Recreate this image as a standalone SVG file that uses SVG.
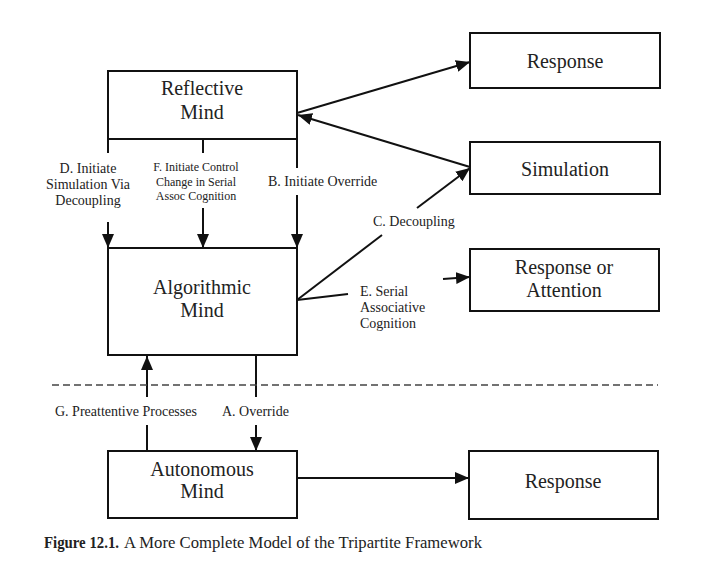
<svg xmlns="http://www.w3.org/2000/svg" width="704" height="580" viewBox="0 0 704 580">
<style>
.box{fill:#fff;stroke:#111;stroke-width:2}
.big{font-family:"Liberation Serif","Times New Roman",serif;font-size:20px;fill:#222;text-anchor:middle}
.lbl{font-family:"Liberation Serif","Times New Roman",serif;font-size:14px;fill:#222}
.sm{font-family:"Liberation Serif","Times New Roman",serif;font-size:12px;fill:#222}
.ln{fill:none;stroke:#111;stroke-width:2}
.dash{fill:none;stroke:#444;stroke-width:1.5;stroke-dasharray:7 4}
.cap{font-family:"Liberation Serif","Times New Roman",serif;font-size:16px;fill:#222}
</style>
<defs>
<marker id="ah" markerUnits="userSpaceOnUse" markerWidth="14" markerHeight="12" viewBox="0 0 14 12" refX="14" refY="6" orient="auto">
<path d="M0,0 L14,6 L0,12 Z" fill="#111"/>
</marker>
</defs>
<rect width="704" height="580" fill="#fff"/>

<g id="connectors">
<path class="ln" d="M108,139 V153"/>
<path class="ln" d="M108,222 V248" marker-end="url(#ah)"/>
<path class="ln" d="M203,139 V153"/>
<path class="ln" d="M203,208 V248" marker-end="url(#ah)"/>
<path class="ln" d="M297,139 V168"/>
<path class="ln" d="M297,195 V248" marker-end="url(#ah)"/>
<path class="ln" d="M297,113 L470,62" marker-end="url(#ah)"/>
<path class="ln" d="M470,167 L298,115" marker-end="url(#ah)"/>
<path class="ln" d="M297,300 L382,235"/>
<path class="ln" d="M417,208 L470,168" marker-end="url(#ah)"/>
<path class="ln" d="M297,300 L348,294"/>
<path class="ln" d="M443,279 L470,277" marker-end="url(#ah)"/>
<path class="ln" d="M147,397 V356" marker-end="url(#ah)"/>
<path class="ln" d="M147,425 V451"/>
<path class="ln" d="M256,356 V397"/>
<path class="ln" d="M256,425 V451" marker-end="url(#ah)"/>
<path class="ln" d="M297,478 H469" marker-end="url(#ah)"/>
<path class="dash" d="M52,385 H658"/>
</g>

<g id="reflective">
<rect class="box" x="108" y="71" width="189" height="68"/>
<text class="big" x="202" y="95">Reflective</text>
<text class="big" x="202" y="119">Mind</text>
</g>
<g id="algorithmic">
<rect class="box" x="108" y="248" width="189" height="107"/>
<text class="big" x="202" y="294">Algorithmic</text>
<text class="big" x="202" y="317">Mind</text>
</g>
<g id="autonomous">
<rect class="box" x="108" y="451" width="189" height="67"/>
<text class="big" x="202" y="476">Autonomous</text>
<text class="big" x="202" y="498">Mind</text>
</g>
<g id="response-top">
<rect class="box" x="470" y="33" width="190" height="55"/>
<text class="big" x="565" y="68">Response</text>
</g>
<g id="simulation">
<rect class="box" x="470" y="142" width="190" height="52"/>
<text class="big" x="565" y="176">Simulation</text>
</g>
<g id="response-attention">
<rect class="box" x="470" y="249" width="189" height="62"/>
<text class="big" x="564" y="274">Response or</text>
<text class="big" x="564" y="297">Attention</text>
</g>
<g id="response-bottom">
<rect class="box" x="469" y="451" width="189" height="68"/>
<text class="big" x="563" y="488">Response</text>
</g>

<g id="labels">
<text class="lbl" text-anchor="middle" x="88" y="173">D. Initiate</text>
<text class="lbl" text-anchor="middle" x="88" y="189">Simulation Via</text>
<text class="lbl" text-anchor="middle" x="88" y="205">Decoupling</text>
<text class="sm" text-anchor="middle" x="196" y="171">F. Initiate Control</text>
<text class="sm" text-anchor="middle" x="196" y="185.5">Change in Serial</text>
<text class="sm" text-anchor="middle" x="196" y="200">Assoc Cognition</text>
<text class="lbl" x="268" y="186">B. Initiate Override</text>
<text class="lbl" x="373" y="226">C. Decoupling</text>
<text class="lbl" x="360" y="296">E. Serial</text>
<text class="lbl" x="360" y="312">Associative</text>
<text class="lbl" x="360" y="328">Cognition</text>
<text class="lbl" x="55" y="416">G. Preattentive Processes</text>
<text class="lbl" x="222" y="416">A. Override</text>
</g>

<g id="caption">
<text class="cap" x="44" y="548" font-weight="bold" textLength="75" lengthAdjust="spacingAndGlyphs">Figure 12.1.</text>
<text class="cap" x="124" y="548" textLength="358" lengthAdjust="spacingAndGlyphs">A More Complete Model of the Tripartite Framework</text>
</g>
</svg>
